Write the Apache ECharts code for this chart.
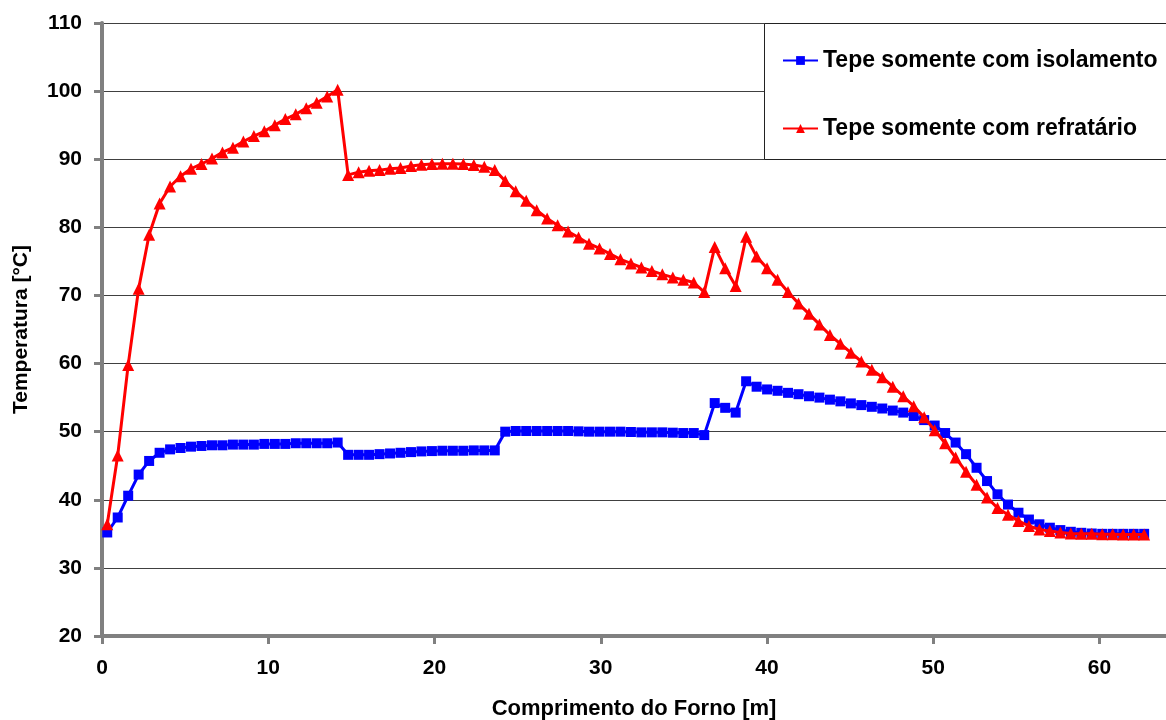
<!DOCTYPE html>
<html>
<head>
<meta charset="utf-8">
<script src="https://cdn.jsdelivr.net/npm/echarts@6/dist/echarts.min.js"></script>
<style>
html,body{margin:0;padding:0;background:#fff;}
#chart{width:1166px;height:720px;}
</style>
</head>
<body>
<div id="chart"></div>
<script>
// Kiln length positions [m]
const positions = [
  0.315, 0.945, 1.575, 2.205, 2.835, 3.465, 4.095, 4.725, 5.355, 5.985,
  6.615, 7.245, 7.875, 8.505, 9.135, 9.765, 10.395, 11.025, 11.655, 12.285,
  12.915, 13.545, 14.175, 14.805, 15.435, 16.065, 16.695, 17.325, 17.955, 18.585,
  19.215, 19.845, 20.475, 21.105, 21.735, 22.365, 22.995, 23.625, 24.255, 24.885,
  25.515, 26.145, 26.775, 27.405, 28.035, 28.665, 29.295, 29.925, 30.555, 31.185,
  31.815, 32.445, 33.075, 33.705, 34.335, 34.965, 35.595, 36.225, 36.855, 37.485,
  38.115, 38.745, 39.375, 40.005, 40.635, 41.265, 41.895, 42.525, 43.155, 43.785,
  44.415, 45.045, 45.675, 46.305, 46.935, 47.565, 48.195, 48.825, 49.455, 50.085,
  50.715, 51.345, 51.975, 52.605, 53.235, 53.865, 54.495, 55.125, 55.755, 56.385,
  57.015, 57.645, 58.275, 58.905, 59.535, 60.165, 60.795, 61.425, 62.055, 62.685
];

// "Tepe somente com isolamento" [°C]
const isolamento = [
  35.2, 37.4, 40.6, 43.7, 45.7, 46.9, 47.4, 47.6, 47.8, 47.9,
  48.0, 48.0, 48.1, 48.1, 48.1, 48.2, 48.2, 48.2, 48.3, 48.3,
  48.3, 48.3, 48.4, 46.6, 46.6, 46.6, 46.7, 46.8, 46.9, 47.0,
  47.1, 47.15, 47.2, 47.2, 47.2, 47.25, 47.25, 47.25, 50.0, 50.1,
  50.1, 50.1, 50.1, 50.1, 50.1, 50.05, 50.0, 50.0, 50.0, 50.0,
  49.95, 49.9, 49.9, 49.9, 49.85, 49.8, 49.8, 49.5, 54.2, 53.5,
  52.8, 57.4, 56.6, 56.2, 56.0, 55.7, 55.5, 55.2, 55.0, 54.7,
  54.45, 54.15, 53.9, 53.65, 53.4, 53.1, 52.8, 52.3, 51.7, 50.9,
  49.8, 48.4, 46.7, 44.7, 42.75, 40.8, 39.3, 38.1, 37.1, 36.4,
  35.9, 35.55, 35.3, 35.15, 35.05, 35.0, 35.0, 35.0, 35.0, 35.0
];

// "Tepe somente com refratário" [°C]
const refratario = [
  36.4, 46.5, 59.8, 71.0, 78.9, 83.5, 86.0, 87.5, 88.6, 89.3,
  90.1, 91.0, 91.7, 92.6, 93.4, 94.1, 95.0, 95.9, 96.6, 97.5,
  98.3, 99.2, 100.2, 87.7, 88.1, 88.3, 88.4, 88.6, 88.7, 89.0,
  89.2, 89.3, 89.35, 89.35, 89.3, 89.15, 88.9, 88.4, 86.8, 85.3,
  83.9, 82.5, 81.3, 80.3, 79.4, 78.5, 77.6, 76.9, 76.1, 75.3,
  74.7, 74.1, 73.6, 73.1, 72.65, 72.3, 71.9, 70.5, 77.1, 74.0,
  71.4, 78.6, 75.7, 74.0, 72.3, 70.5, 68.8, 67.3, 65.75, 64.2,
  62.9, 61.6, 60.3, 59.1, 58.0, 56.6, 55.2, 53.75, 52.1, 50.2,
  48.3, 46.2, 44.1, 42.2, 40.35, 38.8, 37.8, 36.9, 36.15, 35.65,
  35.4, 35.2, 35.05, 35.0, 35.0, 34.95, 34.95, 34.9, 34.9, 34.9
];

const seriesNames = ['Tepe somente com isolamento', 'Tepe somente com refratário'];
const xTicks = [0, 10, 20, 30, 40, 50, 60];
const yTicks = [20, 30, 40, 50, 60, 70, 80, 90, 100, 110];

const FONT = '"Liberation Sans", Arial, sans-serif';
const pair = (ys) => positions.map((x, i) => [x, ys[i]]);

const chart = echarts.init(document.getElementById('chart'), null, {renderer: 'canvas'});
chart.setOption({
  animation: false,
  backgroundColor: '#ffffff',
  grid: {left: 102, right: 0, top: 23, bottom: 84, containLabel: false, outerBoundsMode: 'none'},
  xAxis: {
    type: 'value', min: 0, max: 64, interval: 10,
    name: 'Comprimento do Forno [m]', nameLocation: 'middle', nameGap: 62,
    nameTextStyle: {fontFamily: FONT, fontWeight: 'bold', fontSize: 22, color: '#000'},
    axisLine: {show: true, onZero: false, lineStyle: {color: '#808080', width: 4}},
    axisTick: {show: true, inside: false, length: 8, customValues: xTicks, lineStyle: {color: '#808080', width: 3}},
    axisLabel: {customValues: xTicks, margin: 22, fontFamily: FONT, fontWeight: 'bold', fontSize: 21, color: '#000'},
    splitLine: {show: false}
  },
  yAxis: {
    type: 'value', min: 20, max: 110, interval: 10,
    name: 'Temperatura [°C]', nameLocation: 'middle', nameGap: 70,
    nameTextStyle: {fontFamily: FONT, fontWeight: 'bold', fontSize: 21, color: '#000'},
    axisLine: {show: true, lineStyle: {color: '#808080', width: 4}},
    axisTick: {show: true, inside: false, length: 8, customValues: yTicks, lineStyle: {color: '#808080', width: 3}},
    axisLabel: {customValues: yTicks, margin: 20, fontFamily: FONT, fontWeight: 'bold', fontSize: 21, color: '#000'},
    splitLine: {show: true, lineStyle: {color: '#404040', width: 1}}
  },
  legend: {
    orient: 'vertical', left: 777, top: 44,
    itemWidth: 35, itemHeight: 11, itemGap: 45,
    textStyle: {fontFamily: FONT, fontWeight: 'bold', fontSize: 23, color: '#000', lineHeight: 23},
    data: seriesNames, z: 10
  },
  graphic: [{
    type: 'rect', z: 5,
    shape: {x: 764.5, y: 23.5, width: 420, height: 136},
    style: {fill: '#ffffff', stroke: '#222', lineWidth: 1}
  }],
  series: [
    {
      name: seriesNames[0], type: 'line', data: pair(isolamento),
      symbol: 'rect', symbolSize: 10,
      lineStyle: {color: '#0000ff', width: 3},
      itemStyle: {color: '#0000ff'}, z: 3
    },
    {
      name: seriesNames[1], type: 'line', data: pair(refratario),
      symbol: 'triangle', symbolSize: 12,
      lineStyle: {color: '#ff0000', width: 3},
      itemStyle: {color: '#ff0000'}, z: 4
    }
  ]
});
</script>
</body>
</html>
